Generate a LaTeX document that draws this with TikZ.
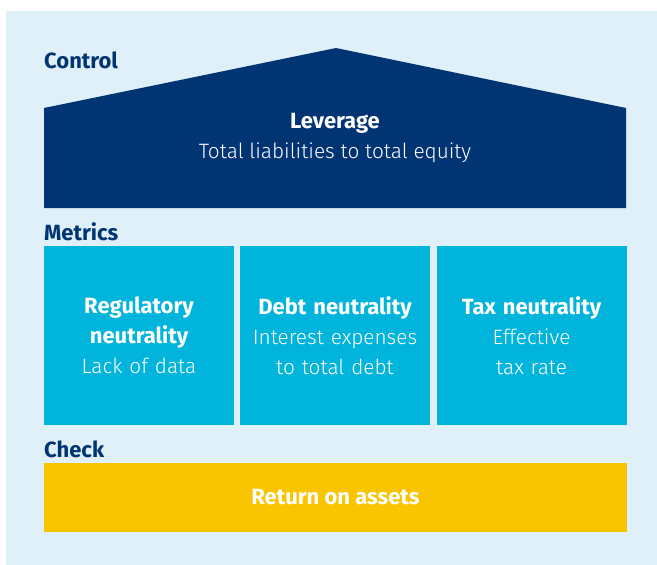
\documentclass[tikz,border=0pt]{standalone}
\usepackage{fontspec}
\setmainfont{Fira Sans}
\newfontfamily\lightfont{Fira Sans Light}
\usepackage{tikz}

\definecolor{skybg}{HTML}{DFF0F8}
\definecolor{navy}{HTML}{003473}
\definecolor{cyanbox}{HTML}{00B4DC}
\definecolor{sun}{HTML}{F9C400}

\newcommand{\boldtxt}[1]{{\fontsize{22}{30}\selectfont\normalfont\bfseries #1}}

\begin{document}
\begin{tikzpicture}[x=1pt,y=-1pt]
	\tikzstyle{heading} = [anchor=west,inner sep=0pt,text=navy,font=\fontsize{22}{24}\selectfont\bfseries]
	\tikzstyle{metric} = [fill=cyanbox,minimum width=190pt,minimum height=179pt,inner sep=0pt,text=white,align=center,text width=188pt,font=\lightfont\fontsize{20.8}{30}\selectfont]
	
	\useasboundingbox (0,0) rectangle (657,565);
	\fill[skybg] (6,11) rectangle (657,565);
	
	% roof
	\fill[navy] (44,108) -- (336,48) -- (626,108) -- (626,208) -- (44,208) -- cycle;
	\node[text=white,align=center,font=\lightfont\fontsize{20.8}{30}\selectfont] (lev) at (335,138) {\boldtxt{Leverage}\\Total liabilities to total equity};
	
	\node[heading] (ctrl) at (44,60) {Control};
	\node[heading] (metr) at (44,232) {Metrics};
	\node[heading] (chk) at (44,449) {Check};
	
	\node[metric] (reg) at (139,335.5) {\boldtxt{Regulatory}\\\boldtxt{neutrality}\\Lack of data};
	\node[metric] (debt) at (335,335.5) {\boldtxt{Debt neutrality}\\Interest expenses\\to total debt};
	\node[metric] (tax) at (531.5,335.5) {\boldtxt{Tax neutrality}\\Effective\\tax rate};
	
	\node[fill=sun,minimum width=583pt,minimum height=69pt,inner sep=0pt,text=white,font=\fontsize{22}{24}\selectfont\bfseries] (roa) at (335.5,497.5) {Return on assets};
\end{tikzpicture}
\end{document}
